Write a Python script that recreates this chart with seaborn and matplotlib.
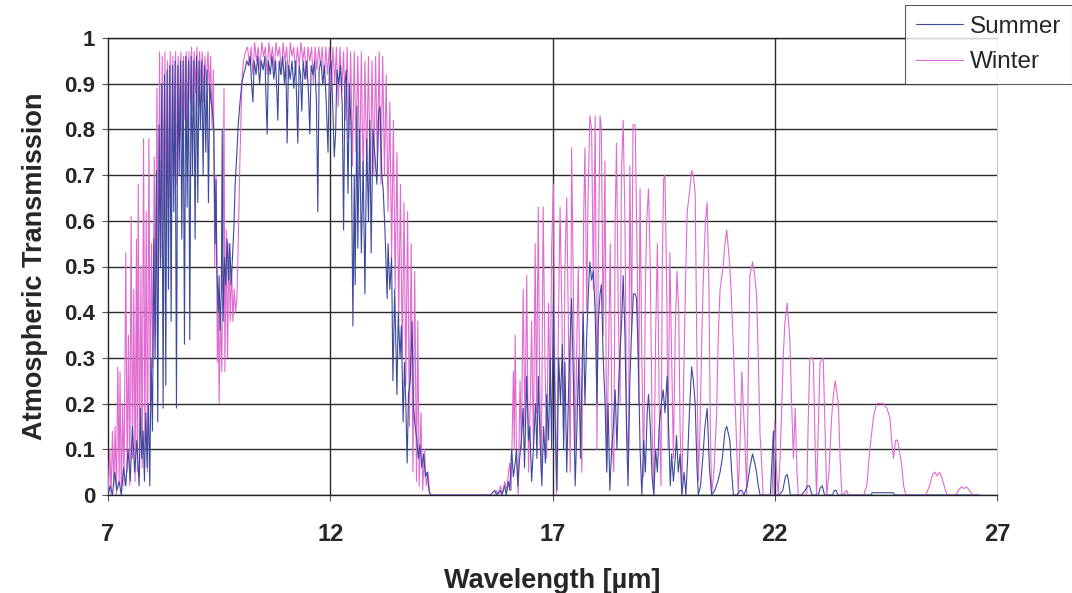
import matplotlib
matplotlib.use("Agg")
import matplotlib.pyplot as plt
import seaborn as sns
import pandas as pd
import numpy as np
from matplotlib.lines import Line2D

# ---------------- data (wavelength [um], transmission) ----------------
x_ticks = [7, 12, 17, 22, 27]
y_ticks = [0, 0.1, 0.2, 0.3, 0.4, 0.5, 0.6, 0.7, 0.8, 0.9, 1.0]
y_tick_labels = ["0", "0.1", "0.2", "0.3", "0.4", "0.5", "0.6", "0.7", "0.8", "0.9", "1"]

summer_band1 = [
    (7.00,0.00),(7.05,0.02),(7.10,0.00),(7.15,0.05),(7.20,0.01),(7.25,0.03),(7.30,0.00),(7.35,0.06),
    (7.40,0.02),(7.45,0.10),(7.50,0.03),(7.55,0.15),(7.60,0.05),(7.65,0.12),(7.70,0.02),(7.73,0.19),
    (7.76,0.08),(7.79,0.14),(7.82,0.03),(7.85,0.18),(7.88,0.06),(7.91,0.20),(7.94,0.02),(7.97,0.30),
    (8.00,0.14),(8.03,0.56),(8.06,0.30),(8.09,0.71),(8.12,0.16),(8.15,0.81),(8.18,0.50),(8.21,0.90),
    (8.24,0.19),(8.27,0.92),(8.30,0.24),(8.33,0.93),(8.36,0.45),(8.39,0.94),(8.42,0.38),(8.45,0.94),
    (8.48,0.62),(8.51,0.95),(8.54,0.19),(8.57,0.94),(8.60,0.70),(8.63,0.95),(8.66,0.56),(8.69,0.95),
    (8.72,0.33),(8.75,0.96),(8.78,0.63),(8.81,0.95),(8.84,0.34),(8.87,0.96),(8.90,0.70),(8.93,0.95),
    (8.96,0.56),(8.99,0.96),(9.02,0.64),(9.05,0.95),(9.08,0.80),(9.11,0.95),(9.14,0.70),(9.17,0.94),
    (9.20,0.75),(9.23,0.93),(9.26,0.64),(9.29,0.90),(9.32,0.86),(9.35,0.84),(9.38,0.80),(9.41,0.55),
    (9.43,0.69),(9.45,0.50),(9.48,0.40),(9.50,0.48),(9.52,0.36),(9.55,0.45),(9.57,0.80),(9.59,0.38),
    (9.62,0.52),(9.65,0.46),(9.68,0.56),(9.71,0.47),(9.74,0.55),(9.77,0.46),(9.80,0.52),(9.83,0.58),
    (9.86,0.68),(9.90,0.75),(9.93,0.81),(9.97,0.86),(10.01,0.90),(10.05,0.92),(10.08,0.93),(10.12,0.95),
    (10.16,0.94),(10.20,0.96),(10.23,0.90),(10.26,0.86),(10.29,0.95),(10.33,0.92),(10.37,0.96),(10.41,0.90),
    (10.45,0.95),(10.49,0.93),(10.53,0.96),(10.56,0.85),(10.58,0.79),(10.61,0.95),(10.65,0.92),(10.69,0.96),
    (10.73,0.91),(10.77,0.95),(10.80,0.88),(10.82,0.82),(10.85,0.95),(10.89,0.92),(10.93,0.96),(10.97,0.90),
    (11.00,0.95),(11.03,0.77),(11.06,0.94),(11.10,0.91),(11.14,0.95),(11.18,0.89),(11.22,0.95),(11.25,0.84),
    (11.27,0.77),(11.30,0.94),(11.33,0.92),(11.36,0.84),(11.39,0.95),(11.43,0.91),(11.47,0.95),(11.51,0.88),
    (11.54,0.79),(11.57,0.94),(11.61,0.92),(11.65,0.95),(11.69,0.86),(11.72,0.62),(11.75,0.93),(11.79,0.95),
    (11.83,0.90),(11.87,0.94),(11.91,0.86),(11.95,0.75),(11.98,0.93),(12.02,0.95),(12.06,0.84),(12.09,0.74),
    (12.12,0.79),(12.15,0.93),(12.19,0.90),(12.23,0.94),(12.27,0.85),(12.30,0.58),(12.33,0.90),(12.36,0.93),
    (12.40,0.66),(12.43,0.90),(12.47,0.80),(12.51,0.37),(12.54,0.70),(12.56,0.46),(12.60,0.85),(12.62,0.54),
    (12.66,0.80),(12.70,0.53),(12.74,0.73),(12.78,0.44),(12.82,0.78),(12.86,0.60),(12.89,0.82),(12.92,0.53),
    (12.96,0.80),(13.00,0.75),(13.05,0.68),(13.09,0.84),(13.12,0.85),(13.16,0.70),(13.19,0.67),(13.23,0.58),
    (13.28,0.43),(13.30,0.55),(13.34,0.45),(13.38,0.52),(13.41,0.25),(13.45,0.45),(13.50,0.22),(13.53,0.40),
    (13.57,0.30),(13.60,0.37),(13.64,0.16),(13.67,0.29),(13.70,0.20),(13.73,0.07),(13.76,0.22),(13.80,0.25),
    (13.84,0.38),(13.87,0.20),(13.91,0.15),(13.95,0.12),(13.98,0.08),(14.02,0.11),(14.06,0.06),(14.10,0.09),
    (14.14,0.04),(14.18,0.05),(14.22,0.01),(14.26,0.00),(14.80,0.00),(15.40,0.00),
]

summer_band2 = [
    (15.60,0.00),(15.70,0.01),(15.75,0.00),(15.82,0.01),(15.86,0.00),(15.92,0.02),(15.96,0.00),(16.01,0.03),
    (16.04,0.01),(16.08,0.10),(16.12,0.04),(16.16,0.07),(16.19,0.10),(16.22,0.02),(16.26,0.08),(16.30,0.12),
    (16.34,0.19),(16.37,0.06),(16.42,0.26),(16.46,0.12),(16.49,0.15),(16.53,0.03),(16.57,0.10),(16.62,0.20),
    (16.65,0.08),(16.68,0.26),(16.72,0.12),(16.76,0.02),(16.80,0.15),(16.84,0.07),(16.87,0.22),(16.91,0.12),
    (16.95,0.30),(16.98,0.10),(17.02,0.42),(17.06,0.15),(17.10,0.01),(17.14,0.30),(17.18,0.20),(17.22,0.33),
    (17.25,0.10),(17.28,0.29),(17.32,0.05),(17.36,0.22),(17.40,0.35),(17.43,0.43),(17.47,0.25),(17.51,0.02),
    (17.55,0.15),(17.59,0.30),(17.63,0.08),(17.66,0.25),(17.69,0.40),(17.73,0.20),(17.77,0.35),(17.81,0.45),
    (17.84,0.51),(17.88,0.47),(17.92,0.49),(17.96,0.40),(18.00,0.20),(18.03,0.38),(18.07,0.44),(18.10,0.46),
    (18.14,0.30),(18.18,0.21),(18.22,0.05),(18.25,0.20),(18.29,0.01),(18.33,0.10),(18.37,0.15),(18.41,0.23),
    (18.45,0.10),(18.49,0.25),(18.53,0.33),(18.56,0.39),(18.59,0.48),(18.63,0.35),(18.67,0.12),(18.70,0.02),
    (18.74,0.25),(18.78,0.36),(18.82,0.44),(18.86,0.44),(18.89,0.43),(18.93,0.30),(18.97,0.10),(19.01,0.00),
    (19.05,0.12),(19.09,0.05),(19.13,0.18),(19.16,0.22),(19.20,0.15),(19.24,0.04),(19.28,0.00),(19.32,0.10),
    (19.36,0.05),(19.40,0.15),(19.45,0.20),(19.49,0.23),(19.53,0.18),(19.58,0.26),(19.62,0.12),(19.65,0.02),
    (19.68,0.09),(19.72,0.03),(19.76,0.08),(19.79,0.13),(19.83,0.05),(19.87,0.09),(19.91,0.00),(19.96,0.05),
    (20.00,0.00),(20.04,0.08),(20.08,0.18),(20.13,0.28),(20.17,0.25),(20.21,0.20),(20.25,0.06),(20.28,0.00),
    (20.33,0.02),(20.38,0.08),(20.43,0.15),(20.48,0.19),(20.53,0.06),(20.58,0.00),(20.65,0.01),(20.72,0.03),
    (20.77,0.05),(20.82,0.08),(20.88,0.14),(20.92,0.15),(20.99,0.12),(21.03,0.05),(21.07,0.00),(21.15,0.00),
    (21.22,0.01),(21.26,0.01),(21.31,0.00),(21.38,0.02),(21.44,0.06),(21.50,0.09),(21.55,0.07),(21.59,0.05),
    (21.63,0.02),(21.67,0.00),(21.80,0.00),(21.90,0.00),(21.95,0.10),(21.97,0.14),(21.99,0.00),(22.10,0.00),
    (22.18,0.01),(22.24,0.04),(22.28,0.045),(22.31,0.03),(22.35,0.00),(22.60,0.00),(22.68,0.01),(22.74,0.02),
    (22.78,0.02),(22.84,0.00),(22.98,0.00),(23.02,0.015),(23.07,0.02),(23.12,0.00),(23.30,0.00),(23.34,0.01),
    (23.38,0.01),(23.42,0.00),(24.15,0.00),(24.20,0.005),(24.66,0.005),(24.70,0.00),(26.60,0.00),
]

winter_band1 = [
    (7.00,0.00),(7.04,0.10),(7.07,0.00),(7.10,0.14),(7.13,0.02),(7.16,0.15),(7.19,0.00),(7.22,0.28),
    (7.25,0.03),(7.27,0.27),(7.30,0.00),(7.33,0.20),(7.36,0.02),(7.40,0.53),(7.43,0.05),(7.46,0.35),
    (7.49,0.02),(7.52,0.61),(7.55,0.08),(7.58,0.45),(7.61,0.03),(7.64,0.56),(7.66,0.05),(7.68,0.68),
    (7.71,0.04),(7.74,0.50),(7.77,0.06),(7.80,0.78),(7.83,0.10),(7.86,0.62),(7.89,0.05),(7.92,0.78),
    (7.95,0.20),(7.98,0.55),(8.01,0.28),(8.04,0.74),(8.07,0.35),(8.10,0.89),(8.13,0.42),(8.16,0.97),
    (8.19,0.52),(8.22,0.96),(8.25,0.60),(8.28,0.97),(8.31,0.55),(8.34,0.95),(8.37,0.65),(8.40,0.97),
    (8.43,0.62),(8.46,0.96),(8.49,0.70),(8.52,0.97),(8.55,0.68),(8.58,0.96),(8.61,0.75),(8.64,0.97),
    (8.67,0.78),(8.70,0.96),(8.73,0.82),(8.76,0.97),(8.79,0.80),(8.82,0.97),(8.85,0.86),(8.88,0.98),
    (8.91,0.84),(8.94,0.97),(8.97,0.88),(9.00,0.98),(9.03,0.85),(9.06,0.97),(9.09,0.90),(9.12,0.97),
    (9.15,0.86),(9.18,0.96),(9.21,0.90),(9.25,0.97),(9.28,0.88),(9.31,0.96),(9.34,0.80),(9.37,0.93),
    (9.40,0.50),(9.43,0.70),(9.46,0.29),(9.48,0.45),(9.50,0.20),(9.53,0.40),(9.56,0.27),(9.59,0.60),
    (9.61,0.89),(9.63,0.27),(9.66,0.58),(9.69,0.30),(9.72,0.55),(9.75,0.38),(9.78,0.50),(9.81,0.38),
    (9.84,0.45),(9.87,0.40),(9.90,0.43),(9.93,0.55),(9.96,0.70),(9.99,0.82),(10.02,0.92),(10.05,0.95),
    (10.09,0.97),(10.14,0.98),(10.18,0.94),(10.22,0.98),(10.26,0.92),(10.30,0.99),(10.34,0.95),(10.38,0.98),
    (10.42,0.93),(10.46,0.99),(10.50,0.96),(10.54,0.98),(10.58,0.92),(10.62,0.99),(10.66,0.95),(10.70,0.98),
    (10.74,0.93),(10.78,0.99),(10.82,0.96),(10.86,0.98),(10.90,0.92),(10.94,0.99),(10.98,0.95),(11.02,0.98),
    (11.06,0.91),(11.10,0.99),(11.14,0.96),(11.18,0.98),(11.22,0.92),(11.26,0.98),(11.30,0.94),(11.34,0.99),
    (11.38,0.95),(11.42,0.98),(11.46,0.91),(11.50,0.98),(11.54,0.95),(11.58,0.98),(11.62,0.90),(11.66,0.98),
    (11.70,0.93),(11.74,0.98),(11.78,0.94),(11.82,0.98),(11.86,0.90),(11.90,0.98),(11.94,0.92),(11.98,0.98),
    (12.02,0.88),(12.06,0.98),(12.10,0.90),(12.14,0.98),(12.18,0.85),(12.22,0.98),(12.26,0.88),(12.30,0.97),
    (12.34,0.82),(12.38,0.98),(12.42,0.78),(12.46,0.97),(12.50,0.72),(12.54,0.97),(12.58,0.75),(12.62,0.96),
    (12.66,0.70),(12.70,0.97),(12.74,0.68),(12.78,0.95),(12.82,0.72),(12.86,0.96),(12.90,0.66),(12.94,0.95),
    (12.98,0.70),(13.02,0.96),(13.06,0.72),(13.10,0.97),(13.14,0.68),(13.18,0.96),(13.22,0.70),(13.26,0.92),
    (13.30,0.62),(13.34,0.86),(13.38,0.52),(13.42,0.82),(13.46,0.45),(13.50,0.75),(13.54,0.38),(13.58,0.68),
    (13.62,0.30),(13.66,0.64),(13.70,0.24),(13.74,0.62),(13.78,0.15),(13.82,0.55),(13.86,0.05),(13.90,0.49),
    (13.94,0.03),(13.97,0.38),(14.00,0.02),(14.04,0.18),(14.08,0.01),(14.12,0.10),(14.16,0.02),(14.20,0.05),
    (14.24,0.00),(14.80,0.00),(15.40,0.00),
]

winter_band2 = [
    (15.70,0.00),(15.74,0.01),(15.78,0.00),(15.83,0.02),(15.87,0.00),(15.93,0.03),(15.97,0.01),(16.01,0.05),
    (16.04,0.07),(16.07,0.01),(16.12,0.27),(16.14,0.10),(16.16,0.35),(16.19,0.08),(16.23,0.00),(16.27,0.25),
    (16.30,0.10),(16.34,0.45),(16.38,0.15),(16.42,0.48),(16.46,0.05),(16.50,0.20),(16.53,0.38),(16.57,0.10),
    (16.61,0.55),(16.64,0.18),(16.68,0.63),(16.71,0.25),(16.75,0.05),(16.79,0.63),(16.83,0.30),(16.87,0.08),
    (16.91,0.42),(16.95,0.20),(16.98,0.54),(17.02,0.68),(17.05,0.30),(17.09,0.00),(17.13,0.35),(17.17,0.63),
    (17.21,0.40),(17.25,0.12),(17.28,0.50),(17.32,0.65),(17.36,0.35),(17.40,0.05),(17.43,0.76),(17.47,0.45),
    (17.51,0.10),(17.55,0.35),(17.58,0.50),(17.62,0.20),(17.66,0.05),(17.70,0.60),(17.73,0.76),(17.77,0.40),
    (17.80,0.65),(17.84,0.83),(17.88,0.80),(17.92,0.45),(17.96,0.83),(18.00,0.10),(18.03,0.50),(18.07,0.83),
    (18.10,0.80),(18.14,0.35),(18.18,0.73),(18.22,0.06),(18.26,0.30),(18.30,0.55),(18.34,0.12),(18.38,0.05),
    (18.41,0.60),(18.44,0.77),(18.48,0.40),(18.52,0.20),(18.55,0.70),(18.59,0.82),(18.63,0.60),(18.67,0.15),
    (18.71,0.08),(18.74,0.72),(18.78,0.35),(18.81,0.81),(18.86,0.81),(18.90,0.55),(18.94,0.20),(18.97,0.67),
    (19.01,0.30),(19.05,0.04),(19.09,0.45),(19.12,0.60),(19.16,0.67),(19.20,0.50),(19.24,0.15),(19.28,0.00),
    (19.32,0.35),(19.36,0.55),(19.40,0.20),(19.44,0.02),(19.47,0.50),(19.50,0.69),(19.53,0.70),(19.57,0.45),
    (19.60,0.10),(19.64,0.53),(19.68,0.30),(19.72,0.08),(19.76,0.35),(19.80,0.49),(19.84,0.40),(19.87,0.15),
    (19.91,0.00),(19.95,0.25),(19.99,0.45),(20.03,0.62),(20.08,0.66),(20.13,0.71),(20.17,0.70),(20.21,0.66),
    (20.25,0.30),(20.28,0.03),(20.32,0.15),(20.36,0.35),(20.39,0.46),(20.44,0.60),(20.48,0.64),(20.52,0.45),
    (20.55,0.15),(20.58,0.00),(20.63,0.05),(20.69,0.17),(20.73,0.35),(20.77,0.45),(20.84,0.50),(20.88,0.55),
    (20.92,0.58),(20.99,0.50),(21.03,0.42),(21.07,0.32),(21.11,0.20),(21.18,0.00),(21.22,0.12),(21.26,0.27),
    (21.30,0.18),(21.33,0.12),(21.37,0.00),(21.41,0.30),(21.44,0.48),(21.50,0.51),(21.55,0.48),(21.59,0.44),
    (21.63,0.30),(21.67,0.13),(21.70,0.08),(21.74,0.00),(21.94,0.00),(21.97,0.10),(22.00,0.16),(22.04,0.05),
    (22.08,0.00),(22.12,0.08),(22.15,0.17),(22.19,0.30),(22.23,0.38),(22.28,0.42),(22.31,0.38),(22.34,0.34),
    (22.38,0.20),(22.42,0.08),(22.46,0.19),(22.50,0.05),(22.53,0.00),(22.72,0.00),(22.75,0.15),(22.79,0.30),
    (22.84,0.30),(22.87,0.29),(22.91,0.10),(22.94,0.00),(22.98,0.15),(23.02,0.29),(23.09,0.30),(23.13,0.15),
    (23.17,0.00),(23.22,0.05),(23.28,0.17),(23.32,0.22),(23.36,0.25),(23.43,0.20),(23.47,0.08),(23.51,0.00),
    (23.58,0.005),(23.62,0.01),(23.66,0.00),(24.00,0.00),(24.07,0.02),(24.14,0.10),(24.22,0.17),(24.29,0.20),
    (24.36,0.20),(24.44,0.20),(24.52,0.19),(24.59,0.17),(24.63,0.12),(24.67,0.08),(24.72,0.12),(24.76,0.12),
    (24.80,0.10),(24.85,0.07),(24.90,0.02),(24.95,0.00),(25.40,0.00),(25.48,0.02),(25.55,0.045),(25.60,0.05),
    (25.65,0.042),(25.71,0.05),(25.77,0.035),(25.84,0.01),(25.88,0.00),(26.08,0.00),(26.13,0.01),(26.20,0.018),
    (26.26,0.014),(26.31,0.018),(26.38,0.01),(26.45,0.00),(26.60,0.00),
]

SUMMER_COLOR = "#3c4a9c"
WINTER_COLOR = "#e06ad0"


def frame(points, season):
    wl, tr = zip(*points)
    return pd.DataFrame({"Wavelength": wl, "Transmission": tr, "Season": season})


df_summer = pd.concat([frame(summer_band1, "Summer"), frame(summer_band2, "Summer")], ignore_index=True)
df_winter = pd.concat([frame(winter_band1, "Winter"), frame(winter_band2, "Winter")], ignore_index=True)

# ---------------- styling ----------------
sns.set_theme(style="white")
plt.rcParams["font.family"] = ["Liberation Sans", "DejaVu Sans"]

W, H = 1072, 593
fig = plt.figure(figsize=(W / 100, H / 100), dpi=100)
ax = fig.add_axes([108 / W, 1 - 495 / H, (997 - 108) / W, (495 - 38) / H])

sns.lineplot(data=df_winter, x="Wavelength", y="Transmission", color=WINTER_COLOR,
             lw=0.8, estimator=None, sort=False, ax=ax, legend=False, zorder=3)
sns.lineplot(data=df_summer, x="Wavelength", y="Transmission", color=SUMMER_COLOR,
             lw=0.8, estimator=None, sort=False, ax=ax, legend=False, zorder=4)

ax.set_xlim(x_ticks[0], x_ticks[-1])
ax.set_ylim(0, 1)
ax.set_xticks(x_ticks)
ax.set_xticklabels([str(t) for t in x_ticks], fontsize=17, fontweight="bold")
ax.set_yticks(y_ticks)
ax.set_yticklabels(y_tick_labels, fontsize=16, fontweight="bold")

ax.yaxis.grid(True, color="#2a2a2a", lw=1.0)
ax.xaxis.grid(False)
for v in x_ticks[1:-1]:
    ax.axvline(v, color="#2a2a2a", lw=1.0, zorder=1)

for s in ["left", "bottom", "top"]:
    ax.spines[s].set_color("#222222")
    ax.spines[s].set_linewidth(1.0)
ax.spines["right"].set_color("#c8c8c8")
ax.spines["right"].set_linewidth(0.8)

ax.tick_params(axis="both", which="major", direction="out", length=4, width=0.8,
               color="#555555", bottom=True, left=True)
ax.tick_params(axis="x", pad=16)
ax.tick_params(axis="y", pad=5)

ax.set_xlabel("Wavelength [µm]", fontsize=19.5, fontweight="bold", labelpad=16)
ax.set_ylabel("Atmospheric Transmission", fontsize=19.5, fontweight="bold", labelpad=12)

handles = [Line2D([], [], color=SUMMER_COLOR, lw=0.8), Line2D([], [], color=WINTER_COLOR, lw=0.8)]
leg = fig.legend(handles, ["Summer", "Winter"], loc="upper left",
                 bbox_to_anchor=(905 / W, 1 - 5 / H), frameon=True, fancybox=False,
                 edgecolor="#333333", fontsize=17.5, handlelength=1.95, borderaxespad=0,
                 borderpad=0.45, labelspacing=0.55, handletextpad=0.28)
leg.get_frame().set_linewidth(0.8)

fig.savefig("out.png", dpi=100)
